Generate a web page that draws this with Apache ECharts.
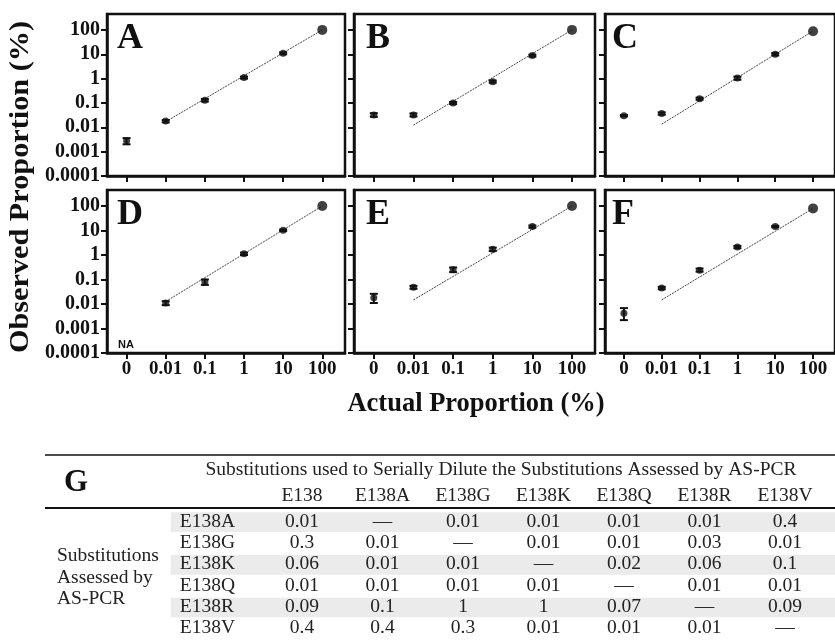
<!DOCTYPE html>
<html>
<head>
<meta charset="utf-8">
<script src="https://cdn.jsdelivr.net/npm/echarts@6/dist/echarts.min.js"></script>
<style>html,body{margin:0;padding:0;background:#fff}#c{width:835px;height:643px}</style>
</head>
<body>
<div id="c"></div>
<script>
// ---------- data ----------
const categories = ['0', '0.01', '0.1', '1', '10', '100'];
const yTicks = [0.0001, 0.001, 0.01, 0.1, 1, 10, 100];
const yTickLabels = ['0.0001', '0.001', '0.01', '0.1', '1', '10', '100'];
const panelNames = ['A', 'B', 'C', 'D', 'E', 'F'];

const obsA = [0.0028, 0.018, 0.13, 1.1, 11, 100];
const loA  = [0.0020, 0.016, 0.115, 1.0, 10, 100];
const hiA  = [0.0036, 0.020, 0.145, 1.2, 12, 100];
const fitA = [0.017, 100];

const obsB = [0.032, 0.032, 0.10, 0.75, 8.8, 100];
const loB  = [0.027, 0.028, 0.09, 0.68, 8.0, 100];
const hiB  = [0.038, 0.037, 0.11, 0.83, 9.6, 100];
const fitB = [0.0123, 100];

const obsC = [0.030, 0.037, 0.15, 1.05, 10, 88];
const loC  = [0.028, 0.033, 0.135, 0.9, 9.0, 88];
const hiC  = [0.032, 0.041, 0.165, 1.2, 11.2, 88];
const fitC = [0.0135, 90];

const obsD = [null, 0.011, 0.08, 1.12, 10.3, 100];
const loD  = [null, 0.009, 0.06, 1.0, 9.5, 100];
const hiD  = [null, 0.013, 0.10, 1.25, 11, 100];
const fitD = [0.0126, 100];

const obsE = [0.018, 0.048, 0.25, 1.7, 14.5, 100];
const loE  = [0.011, 0.042, 0.20, 1.45, 13, 100];
const hiE  = [0.026, 0.055, 0.31, 2.0, 16, 100];
const fitE = [0.0147, 100];

const obsF = [0.0042, 0.045, 0.24, 2.1, 14.5, 80];
const loF  = [0.0022, 0.040, 0.21, 1.9, 13.5, 80];
const hiF  = [0.0068, 0.050, 0.28, 2.35, 15.5, 80];
const fitF = [0.0147, 80];

const naLabel = 'NA';

const tableLetter = 'G';
const tableTitle = 'Substitutions used to Serially Dilute the Substitutions Assessed by AS-PCR';
const colHeaders = ['E138', 'E138A', 'E138G', 'E138K', 'E138Q', 'E138R', 'E138V'];
const rowHeaders = ['E138A', 'E138G', 'E138K', 'E138Q', 'E138R', 'E138V'];
const rowGroupLabel = 'Substitutions\nAssessed by\nAS-PCR';
const cellE138A = ['0.01', '\u2014', '0.01', '0.01', '0.01', '0.01', '0.4'];
const cellE138G = ['0.3', '0.01', '\u2014', '0.01', '0.01', '0.03', '0.01'];
const cellE138K = ['0.06', '0.01', '0.01', '\u2014', '0.02', '0.06', '0.1'];
const cellE138Q = ['0.01', '0.01', '0.01', '0.01', '\u2014', '0.01', '0.01'];
const cellE138R = ['0.09', '0.1', '1', '1', '0.07', '\u2014', '0.09'];
const cellE138V = ['0.4', '0.4', '0.3', '0.01', '0.01', '0.01', '\u2014'];
const shadedRows = [true, false, true, false, true, false];

const yTitle = 'Observed Proportion (%)';
const xTitle = 'Actual Proportion (%)';

// ---------- build ----------
const panels = [
  {obs: obsA, lo: loA, hi: hiA, fit: fitA},
  {obs: obsB, lo: loB, hi: hiB, fit: fitB},
  {obs: obsC, lo: loC, hi: hiC, fit: fitC},
  {obs: obsD, lo: loD, hi: hiD, fit: fitD},
  {obs: obsE, lo: loE, hi: hiE, fit: fitE},
  {obs: obsF, lo: loF, hi: hiF, fit: fitF}
];
const cells = [cellE138A, cellE138G, cellE138K, cellE138Q, cellE138R, cellE138V];

const SERIF = "'Liberation Serif', 'Times New Roman', serif";
const colLeft = [107, 354, 605];
const colWidth = [238, 241, 240];
const rowTop = [14, 190];
const rowHeight = [162, 163];
const letterDx = [10, 12, 7];

const grids = [], xAxes = [], yAxes = [], series = [], graphics = [];

panels.forEach((p, i) => {
  const col = i % 3, row = Math.floor(i / 3);
  grids.push({
    left: colLeft[col], top: rowTop[row], width: colWidth[col], height: rowHeight[row],
    show: true, borderColor: '#111', borderWidth: 2.5, backgroundColor: '#fff'
  });
  xAxes.push({
    gridIndex: i, type: 'value', min: -0.5, max: 5.58,
    splitLine: {show: false},
    axisLine: {show: true, onZero: false, lineStyle: {color: '#111', width: 2.5}},
    axisTick: {show: true, length: 6, lineStyle: {color: '#111', width: 2}, customValues: categories.map((c, k) => k)},
    axisLabel: {
      show: row === 1, margin: 7, customValues: categories.map((c, k) => k),
      fontFamily: SERIF, fontWeight: 'bold', fontSize: 19, color: '#111',
      formatter: v => categories[Math.round(v)]
    }
  });
  yAxes.push({
    gridIndex: i, type: 'log', logBase: 10, min: 0.0001, max: 450,
    splitLine: {show: false},
    axisLine: {show: true, onZero: false, lineStyle: {color: '#111', width: 2.5}},
    axisTick: {show: true, length: 6, lineStyle: {color: '#111', width: 2}, customValues: yTicks},
    axisLabel: {
      show: col === 0, margin: 7, customValues: yTicks,
      fontFamily: SERIF, fontWeight: 'bold', fontSize: 20, color: '#111',
      formatter: v => yTickLabels[Math.round(Math.log10(v)) + 4]
    }
  });
  // fit line
  series.push({
    type: 'line', xAxisIndex: i, yAxisIndex: i, showSymbol: false, silent: true,
    data: [[1, p.fit[0]], [5, p.fit[1]]],
    lineStyle: {color: '#444', width: 1, type: [2, 1]}, z: 2
  });
  // error bars
  series.push({
    type: 'custom', xAxisIndex: i, yAxisIndex: i, silent: true, z: 3,
    data: categories.map((c, k) => [k, p.lo[k], p.hi[k]]).filter(d => d[1] != null && d[1] !== d[2]),
    renderItem: (params, api) => {
      const top = api.coord([api.value(0), api.value(2)]);
      const bot = api.coord([api.value(0), api.value(1)]);
      const w = 4;
      const st = {stroke: '#111', lineWidth: 2};
      return {type: 'group', children: [
        {type: 'line', shape: {x1: top[0], y1: top[1], x2: bot[0], y2: bot[1]}, style: st},
        {type: 'line', shape: {x1: top[0] - w, y1: top[1], x2: top[0] + w, y2: top[1]}, style: st},
        {type: 'line', shape: {x1: bot[0] - w, y1: bot[1], x2: bot[0] + w, y2: bot[1]}, style: st}
      ]};
    }
  });
  // points
  series.push({
    type: 'scatter', xAxisIndex: i, yAxisIndex: i, z: 4,
    data: categories.map((c, k) => [k, p.obs[k]]).filter(d => d[1] != null),
    symbol: 'circle',
    symbolSize: (v) => v[0] === categories.length - 1 ? 10 : 7,
    itemStyle: {color: '#111'}
  });
  graphics.push({
    type: 'text', x: colLeft[col] + letterDx[col], y: rowTop[row] + 25,
    style: {text: panelNames[i], font: "bold 36px " + SERIF, fill: '#111', align: 'left', verticalAlign: 'middle'}
  });
});

// NA label in panel D
graphics.push({
  type: 'text', left: colLeft[0] + 11, top: rowTop[1] + rowHeight[1] - 14,
  style: {text: naLabel, font: "bold 11px 'Liberation Sans', Arial, sans-serif", fill: '#111'}
});

// Axis titles
graphics.push({
  type: 'text', x: 21, y: 187, rotation: Math.PI / 2, scaleX: 1.12,
  style: {text: yTitle, font: "bold 27px " + SERIF, fill: '#111', align: 'center', verticalAlign: 'middle'}
});
graphics.push({
  type: 'text', x: 476, y: 404,
  style: {text: xTitle, font: "bold 26.5px " + SERIF, fill: '#111', align: 'center', verticalAlign: 'middle'}
});

// ---------- table G ----------
const TF = 19.5;
grids.push({left: 261.75, top: 511, width: 563.5, height: 128, show: false});
xAxes.push({
  gridIndex: 6, type: 'category', data: colHeaders, position: 'top',
  axisLine: {show: false}, axisTick: {show: false}, splitLine: {show: false},
  axisLabel: {margin: 5, fontFamily: SERIF, fontSize: TF, color: '#222', interval: 0}
});
yAxes.push({
  gridIndex: 6, type: 'category', data: rowHeaders, inverse: true, z: 10,
  axisLine: {show: false}, axisTick: {show: false}, splitLine: {show: false},
  axisLabel: {margin: 82, align: 'left', fontFamily: SERIF, fontSize: TF, color: '#222', interval: 0}
});
series.push({
  type: 'custom', xAxisIndex: 6, yAxisIndex: 6, silent: true, z: 0,
  data: rowHeaders.map((r, k) => [0, k, shadedRows[k] ? 1 : 0]).filter(d => d[2] === 1),
  renderItem: (params, api) => {
    const c = api.coord([api.value(0), api.value(1)]);
    const h = api.size([0, 1])[1] * 0.92;
    const x0 = params.coordSys.x - 91;
    return {type: 'rect', shape: {x: x0, y: c[1] - h / 2 + 0.5, width: api.getWidth() - x0, height: h},
      style: {fill: '#ebebeb'}};
  }
});
const cellData = [];
cells.forEach((rowVals, r) => rowVals.forEach((v, c) => cellData.push([c, r, v])));
series.push({
  type: 'custom', xAxisIndex: 6, yAxisIndex: 6, silent: true, z: 2,
  data: cellData.map(d => [d[0], d[1]]),
  renderItem: (params, api) => {
    const c = api.coord([api.value(0), api.value(1)]);
    const d = cellData[params.dataIndex];
    return {type: 'text', x: c[0], y: c[1],
      style: {text: d[2], font: TF + "px " + SERIF, fill: '#222', align: 'center', verticalAlign: 'middle'}};
  }
});
graphics.push({
  type: 'text', x: 76, y: 483,
  style: {text: tableLetter, font: "bold 31px " + SERIF, fill: '#111', align: 'center', verticalAlign: 'middle'}
});
graphics.push({
  type: 'text', x: 501, y: 470,
  style: {text: tableTitle, font: TF + "px " + SERIF, fill: '#222', align: 'center', verticalAlign: 'middle'}
});
graphics.push({
  type: 'line', shape: {x1: 45, y1: 455, x2: 835, y2: 455}, style: {stroke: '#111', lineWidth: 1.5}
});
graphics.push({
  type: 'line', shape: {x1: 45, y1: 508, x2: 835, y2: 508}, style: {stroke: '#111', lineWidth: 2}
});
graphics.push({
  type: 'text', x: 57, y: 577.5,
  style: {text: rowGroupLabel, font: TF + "px " + SERIF, fill: '#222', align: 'left', verticalAlign: 'middle', lineHeight: 21.5}
});

const chart = echarts.init(document.getElementById('c'), null, {renderer: 'canvas'});
chart.setOption({
  animation: false,
  backgroundColor: '#fff',
  grid: grids, xAxis: xAxes, yAxis: yAxes, series: series,
  graphic: graphics
});
</script>
</body>
</html>
